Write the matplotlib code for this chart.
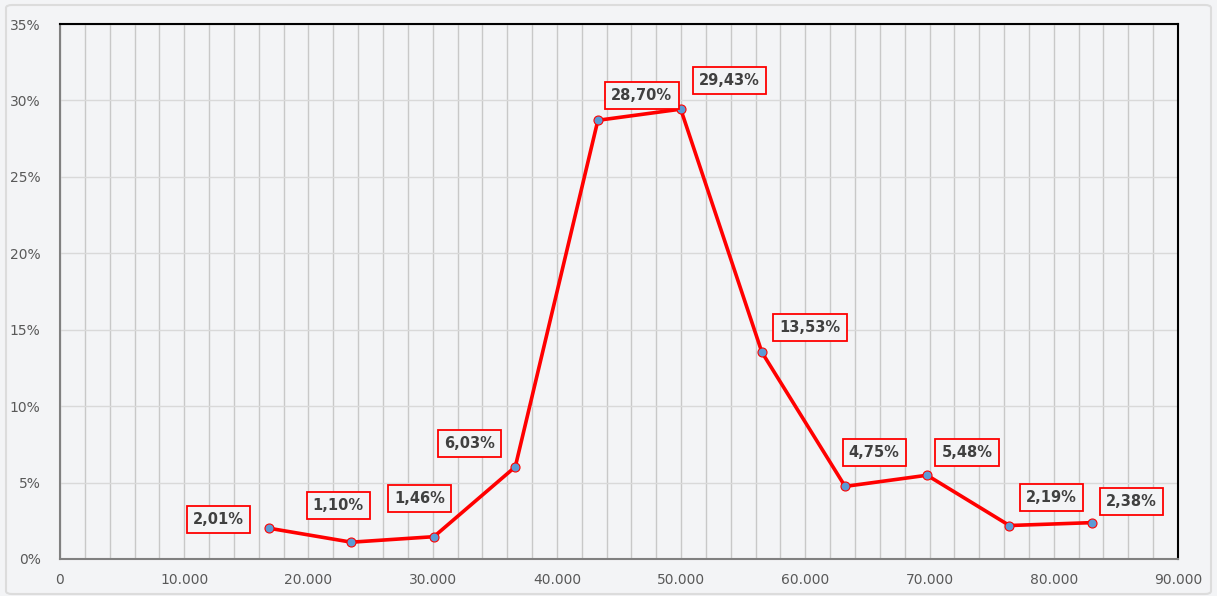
import matplotlib
matplotlib.use("Agg")
import matplotlib.pyplot as plt
from matplotlib.ticker import FuncFormatter, MultipleLocator
from matplotlib.patches import FancyBboxPatch

# datos
x_vals = [16850, 23450, 30100, 36650, 43300, 49970, 56500, 63200, 69800, 76430, 83090]
pct_vals = [2.01, 1.10, 1.46, 6.03, 28.70, 29.43, 13.53, 4.75, 5.48, 2.19, 2.38]
labels = ["2,01%", "1,10%", "1,46%", "6,03%", "28,70%", "29,43%",
          "13,53%", "4,75%", "5,48%", "2,19%", "2,38%"]
# desplazamiento de cada etiqueta (pixeles)
offsets = [(-51, 9), (-13, 37), (-14, 38), (-46, 23), (44, 25), (49, 29),
           (48, 25), (29, 34), (40, 23), (42, 28), (39, 21)]

bg = "#f3f4f6"
fig = plt.figure(figsize=(12.17, 5.96), dpi=100, facecolor=bg)
ax = fig.add_axes([60 / 1217, 1 - 559 / 596, 1118 / 1217, 535 / 596])
ax.set_facecolor(bg)

ax.plot(x_vals, pct_vals, color="#ff0000", lw=2.6, zorder=3,
        marker="o", markersize=6.5, markerfacecolor="#5b9bd5",
        markeredgecolor="#ff0000", markeredgewidth=0.8)

for x, y, lab, (dx, dy) in zip(x_vals, pct_vals, labels, offsets):
    ax.annotate(lab, (x, y), xytext=(dx, dy), textcoords="offset pixels",
                ha="center", va="center", fontsize=10.5, fontweight="bold",
                family="DejaVu Sans", color="#404040", zorder=4,
                bbox=dict(boxstyle="square,pad=0.42", fc=bg, ec="#ff0000", lw=1.3))

ax.set_xlim(0, 90000)
ax.set_ylim(0, 35)
ax.xaxis.set_major_locator(MultipleLocator(10000))
ax.xaxis.set_minor_locator(MultipleLocator(2000))
ax.yaxis.set_major_locator(MultipleLocator(5))
ax.xaxis.set_major_formatter(FuncFormatter(lambda v, p: "0" if v == 0 else f"{int(v):,}".replace(",", ".")))
ax.yaxis.set_major_formatter(FuncFormatter(lambda v, p: f"{int(v)}%"))

ax.grid(axis="x", which="both", color="#c8c8c8", lw=1)
ax.grid(axis="y", which="major", color="#d9d9d9", lw=1)
ax.set_axisbelow(True)

ax.tick_params(which="both", length=0, labelsize=10, colors="#595959", pad=10)
ax.tick_params(axis="y", pad=14)

for s in ["left", "bottom"]:
    ax.spines[s].set_color("#808080")
    ax.spines[s].set_linewidth(1.5)
for s in ["top", "right"]:
    ax.spines[s].set_color("#000000")
    ax.spines[s].set_linewidth(1.5)

frame = FancyBboxPatch((6 / 1217, 2 / 596), 1205 / 1217, 589 / 596,
                       boxstyle="round,pad=0,rounding_size=0.005",
                       transform=fig.transFigure, fc="none", ec="#dcdcdc", lw=1.5)
fig.patches.append(frame)

fig.savefig("out.png", dpi=100, facecolor=bg)
